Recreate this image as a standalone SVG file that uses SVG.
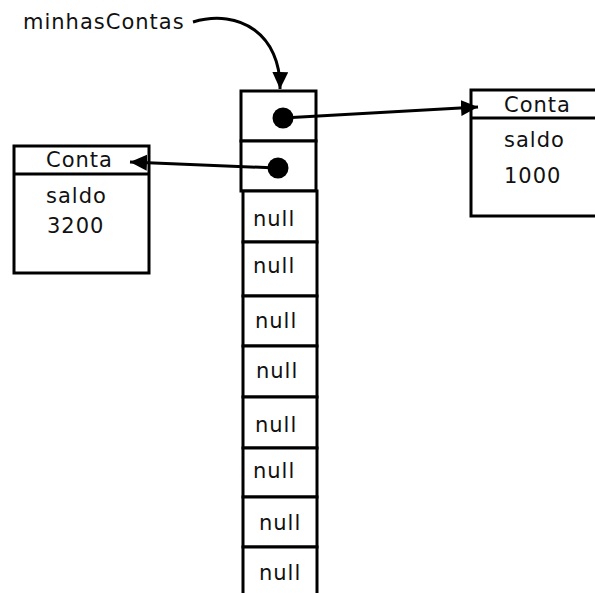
<svg xmlns="http://www.w3.org/2000/svg" width="595" height="593" viewBox="0 0 595 593">
<defs>
<style>
text{font-family:"DejaVu Sans","Liberation Sans",sans-serif;font-size:21px;letter-spacing:1px;fill:#111}
.box{fill:#fff;stroke:#000;stroke-width:3}
.ln{fill:none;stroke:#000;stroke-width:3}
.con{fill:none;stroke:#000;stroke-width:3}
.dot{fill:#000}
</style>
<marker id="ah" markerUnits="userSpaceOnUse" markerWidth="20" markerHeight="18" refX="17" refY="8" orient="auto">
<path d="M0,0 L17,8 L0,16 z" fill="#000"/>
</marker>
</defs>
<rect width="595" height="593" fill="#fff"/>
<g id="label-minhasContas"><text x="23" y="29">minhasContas</text></g>
<g id="conta-right">
<rect class="box" x="471" y="90" width="140" height="126"/>
<line class="ln" x1="471" y1="118" x2="611" y2="118"/>
<text x="504" y="112">Conta</text>
<text x="504" y="147">saldo</text>
<text x="504" y="183">1000</text>
</g>
<g id="conta-left">
<rect class="box" x="14" y="146" width="135" height="127"/>
<line class="ln" x1="14" y1="174" x2="149" y2="174"/>
<text x="46" y="167">Conta</text>
<text x="46" y="203">saldo</text>
<text x="47" y="233">3200</text>
</g>
<g id="array">
<g id="cell0"><rect class="box" x="241" y="91" width="75" height="50"/><circle class="dot" cx="283" cy="118" r="10.5"/></g>
<g id="cell1"><rect class="box" x="241" y="141" width="75" height="50"/><circle class="dot" cx="278" cy="168" r="10.5"/></g>
<g id="cell2"><rect class="box" x="243" y="191" width="74" height="51"/><text x="253" y="226">null</text></g>
<g id="cell3"><rect class="box" x="243" y="242" width="74" height="54"/><text x="253" y="273">null</text></g>
<g id="cell4"><rect class="box" x="243" y="296" width="74" height="50"/><text x="255" y="328">null</text></g>
<g id="cell5"><rect class="box" x="243" y="346" width="74" height="51"/><text x="256" y="378">null</text></g>
<g id="cell6"><rect class="box" x="243" y="397" width="74" height="51"/><text x="255" y="432">null</text></g>
<g id="cell7"><rect class="box" x="243" y="448" width="74" height="49"/><text x="253" y="478">null</text></g>
<g id="cell8"><rect class="box" x="243" y="497" width="74" height="50"/><text x="259" y="530">null</text></g>
<g id="cell9"><rect class="box" x="243" y="547" width="74" height="60"/><text x="259" y="580">null</text></g>
</g>
<g id="connectors">
<path class="con" d="M193,22 C240,8 281,35 280,89" marker-end="url(#ah)"/>
<line class="con" x1="283" y1="118" x2="478" y2="107" marker-end="url(#ah)"/>
<line class="con" x1="277" y1="168" x2="130" y2="162" marker-end="url(#ah)"/>
</g>
</svg>
